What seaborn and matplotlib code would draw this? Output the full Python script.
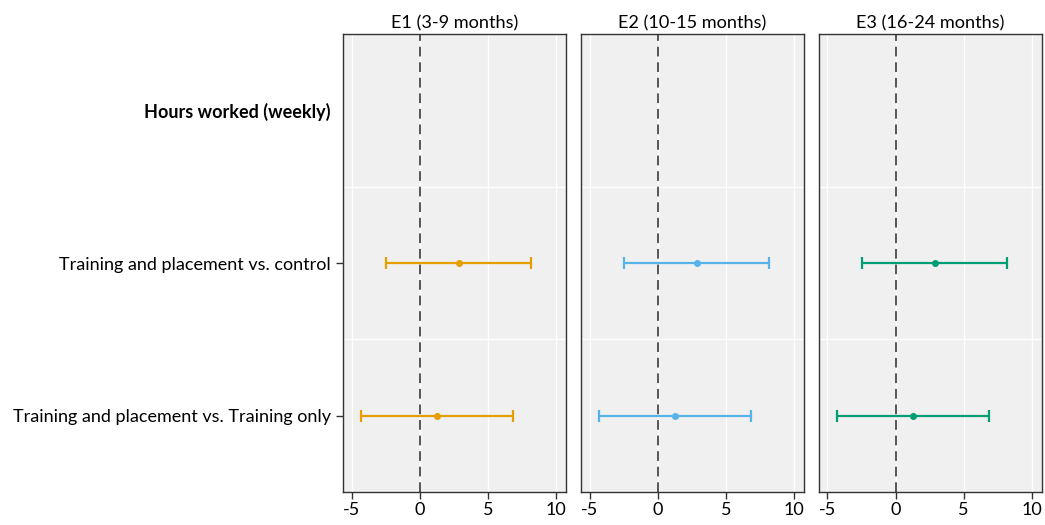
import numpy as np
import pandas as pd
import seaborn as sns
import matplotlib.pyplot as plt

# data
periods = ["E1 (3-9 months)", "E2 (10-15 months)", "E3 (16-24 months)"]
rows = ["Hours worked (weekly)", "Training and placement vs. control",
        "Training and placement vs. Training only"]
contrasts = ["Training and placement vs. control",
             "Training and placement vs. Training only"]
estimate = [2.87, 1.27]
ci_low = [-2.45, -4.29]
ci_high = [8.15, 6.86]
colors = ["#E69F00", "#56B4E9", "#009E73"]
xticks = [-5, 0, 5, 10]

recs = []
for p in periods:
    for c, e, lo, hi in zip(contrasts, estimate, ci_low, ci_high):
        recs.append({"period": p, "contrast": c, "est": e, "lo": lo, "hi": hi})
df = pd.DataFrame(recs)
df["ypos"] = df["contrast"].map({r: i for i, r in enumerate(rows)})

sns.set_theme(style="white")
plt.rcParams["font.family"] = ["Lato", "DejaVu Sans"]
plt.rcParams["text.color"] = "black"
plt.rcParams["xtick.color"] = "black"
plt.rcParams["ytick.color"] = "black"

g = sns.FacetGrid(df, col="period", col_order=periods, sharex=True, sharey=True,
                  height=5.25, aspect=0.4)
g.figure.set_size_inches(10.45, 5.25)

for ax, p, col in zip(g.axes.flat, periods, colors):
    d = df[df["period"] == p]
    ax.set_facecolor("#F0F0F0")
    for x in xticks:
        ax.axvline(x, color="white", lw=1, zorder=0)
    for y in [0.5, 1.5]:
        ax.axhline(y, color="white", lw=1, zorder=0)
    ax.axvline(0, color="#555555", lw=1.4, ls=(0, (5, 3)), zorder=1)
    ax.errorbar(d["est"], d["ypos"],
                xerr=[d["est"] - d["lo"], d["hi"] - d["est"]],
                fmt="o", color=col, ms=4, elinewidth=1.6, capsize=4.5,
                capthick=1.6, zorder=3)
    ax.set_xlim(-5.66, 10.74)
    ax.set_ylim(2.5, -0.5)
    ax.set_xticks(xticks)
    ax.set_xticklabels(["-5", "0", "5", "10"])
    ax.set_title(p, fontsize=13.1, pad=4)
    ax.set_xlabel("")
    ax.set_ylabel("")
    for s in ax.spines.values():
        s.set_visible(True)
        s.set_color("#333333")
        s.set_linewidth(1)
    ax.tick_params(axis="x", bottom=True, length=5, width=1, color="#333333",
                   labelsize=13, pad=2)

ax0 = g.axes.flat[0]
ax0.set_yticks([0, 1, 2])
ax0.set_yticklabels(rows, fontsize=13.0)
ax0.get_yticklabels()[0].set_fontweight("bold")
ax0.tick_params(axis="y", left=True, length=5, width=1, color="#333333")
ax0.yaxis.get_major_ticks()[0].tick1line.set_visible(False)
for ax in g.axes.flat[1:]:
    ax.tick_params(axis="y", left=False, labelleft=False)

g.figure.subplots_adjust(left=0.328, right=0.997, top=0.935, bottom=0.063, wspace=0.065)
g.figure.savefig("out.png", dpi=100)
